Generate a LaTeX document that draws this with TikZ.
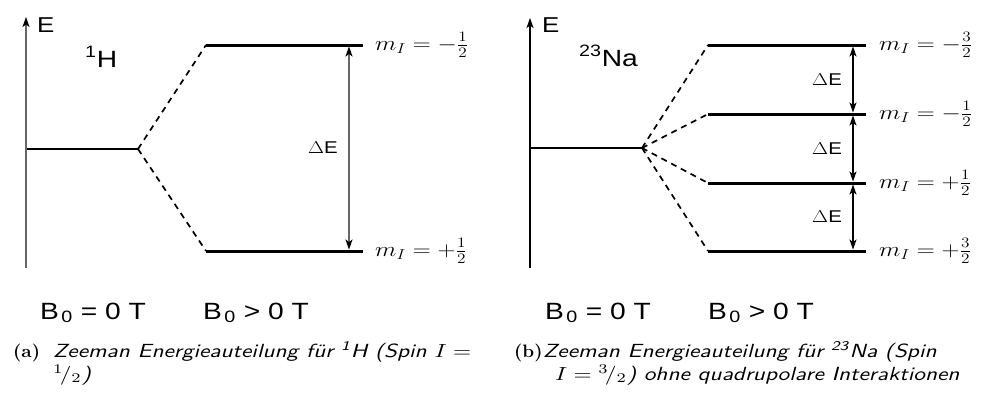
\documentclass[tikz,border=0pt]{standalone}
\usepackage{graphicx}
\usepackage{fontspec}
\newfontfamily\arialfont{Liberation Sans}
\usetikzlibrary{arrows.meta,positioning,calc}

% labels come out a little wider than tall
\newcommand{\wide}[1]{\scalebox{1.2}[1]{#1}}
\newcommand{\captext}[1]{\scalebox{2.33}[1.9]{#1}}
\newcommand{\captag}[1]{\scalebox{1.85}[1.8]{\rmfamily\bfseries #1}}

\begin{document}
\begin{tikzpicture}[
  x=1pt,y=-1pt,
  >={Stealth[length=10pt,width=7pt,inset=2.5pt]},
  blacktip/.tip={Stealth[length=10pt,width=7pt,inset=2.5pt,color=black]},
  axis/.style={-blacktip,line width=1.3pt},
  ground/.style={line width=1.3pt},
  level/.style={line width=3pt},
  fan/.style={dash pattern=on 6pt off 5pt,line width=1.7pt},
  gap/.style={blacktip-blacktip,line width=1.3pt,shorten <=1.5pt,shorten >=1.5pt},
  elbl/.style={font=\arialfont\fontsize{21.5}{26}\selectfont,inner sep=0pt,anchor=base west},
  nucl/.style={font=\arialfont\fontsize{23.5}{28}\selectfont,inner sep=0pt,anchor=base west},
  field/.style={font=\arialfont\fontsize{23.5}{28}\selectfont,inner sep=0pt,anchor=base west},
  mlbl/.style={font=\fontsize{21.5}{26}\selectfont,inner sep=0pt,anchor=west},
  dlbl/.style={font=\arialfont\fontsize{17}{20}\selectfont,inner sep=0pt,left=10.5pt},
  subcap/.style={font=\sffamily\itshape,inner sep=0pt,anchor=base west},
  captagbox/.style={inner sep=0pt,anchor=base west}
]
\useasboundingbox (0,0) rectangle (983,392);

% (a) 1H
\coordinate (hAxisLo) at (26,268);
\coordinate (hAxisHi) at (26,17);
\draw[axis,black!60] (hAxisLo) -- (hAxisHi);
\node[elbl] (hE) at (37,32) {\wide{E}};
\node[nucl] (hNuc) at (85,67) {\wide{\textsuperscript{1}H}};
\coordinate (hZero) at (27,149);
\coordinate (hFan) at (138,149);
\draw[ground] (hZero) -- (hFan);
\coordinate (hUpL) at (206,45);
\coordinate (hUpR) at (363,45);
\coordinate (hLoL) at (206,251);
\coordinate (hLoR) at (363,251);
\draw[level] (hUpL) -- (hUpR);
\draw[level] (hLoL) -- (hLoR);
\draw[fan] (hFan) -- (hUpL);
\draw[fan] (hFan) -- (hLoL);
\coordinate (hUpA) at (349,45);
\coordinate (hLoA) at (349,251);
\draw[gap,black!60] (hUpA) -- (hLoA) node[midway,dlbl,text=black] (hDelta) {\wide{$\Delta$E}};
\node[mlbl,right=12pt of hUpR] (hUpM) {\wide{$m_I = -\frac{1}{2}$}};
\node[mlbl,right=12pt of hLoR] (hLoM) {\wide{$m_I = +\frac{1}{2}$}};
\node[field] (hB0) at (40,319) {\wide{B\kern2pt\textsubscript{0} = 0 T}};
\node[field] (hB1) at (203,319) {\wide{B\kern2pt\textsubscript{0} > 0 T}};
\node[captagbox] (hTag) at (13,357) {\captag{(a)}};
\node[subcap] (hCap) at (53,357) {\captext{Zeeman Energieauteilung für \textsuperscript{1}H (Spin $I =$}};
\node[subcap] (hCapB) at (53,380) {\captext{${}^{1}\!/{}_{2}$)}};

% (b) 23Na
\coordinate (nAxisLo) at (530,268);
\coordinate (nAxisHi) at (530,18);
\draw[axis] (nAxisLo) -- (nAxisHi);
\node[elbl] (nE) at (542,32) {\wide{E}};
\node[nucl] (nNuc) at (579,66) {\wide{\textsuperscript{23}Na}};
\coordinate (nZero) at (531,148);
\coordinate (nFan) at (642,148);
\draw[ground] (nZero) -- (nFan);
\coordinate (nL1) at (708,45);   \coordinate (nR1) at (866,45);
\coordinate (nL2) at (708,114);  \coordinate (nR2) at (866,114);
\coordinate (nL3) at (708,183);  \coordinate (nR3) at (866,183);
\coordinate (nL4) at (708,251);  \coordinate (nR4) at (866,251);
\draw[level] (nL1) -- (nR1);
\draw[level] (nL2) -- (nR2);
\draw[level] (nL3) -- (nR3);
\draw[level] (nL4) -- (nR4);
\draw[fan] (nFan) -- (nL1);
\draw[fan] (nFan) -- (nL2);
\draw[fan] (nFan) -- (nL3);
\draw[fan] (nFan) -- (nL4);
\coordinate (nA1) at (853,45);
\coordinate (nA2) at (853,114);
\coordinate (nA3) at (853,183);
\coordinate (nA4) at (853,251);
\draw[gap] (nA1) -- (nA2) node[midway,dlbl] (nDelta1) {\wide{$\Delta$E}};
\draw[gap] (nA2) -- (nA3) node[midway,dlbl] (nDelta2) {\wide{$\Delta$E}};
\draw[gap] (nA3) -- (nA4) node[midway,dlbl] (nDelta3) {\wide{$\Delta$E}};
\node[mlbl,right=13pt of nR1] (nM1) {\wide{$m_I = -\frac{3}{2}$}};
\node[mlbl,right=13pt of nR2] (nM2) {\wide{$m_I = -\frac{1}{2}$}};
\node[mlbl,right=13pt of nR3] (nM3) {\wide{$m_I = +\frac{1}{2}$}};
\node[mlbl,right=13pt of nR4] (nM4) {\wide{$m_I = +\frac{3}{2}$}};
\node[field] (nB0) at (545,319) {\wide{B\kern2pt\textsubscript{0} = 0 T}};
\node[field] (nB1) at (708,319) {\wide{B\kern2pt\textsubscript{0} > 0 T}};
\node[captagbox] (nTag) at (514,357) {\captag{(b)}};
\node[subcap] (nCap) at (543,357) {\captext{Zeeman Energieauteilung für \textsuperscript{23}Na (Spin}};
\node[subcap] (nCapB) at (555,380) {\captext{$I = {}^{3}\!/{}_{2}$) ohne quadrupolare Interaktionen}};
\end{tikzpicture}
\end{document}
